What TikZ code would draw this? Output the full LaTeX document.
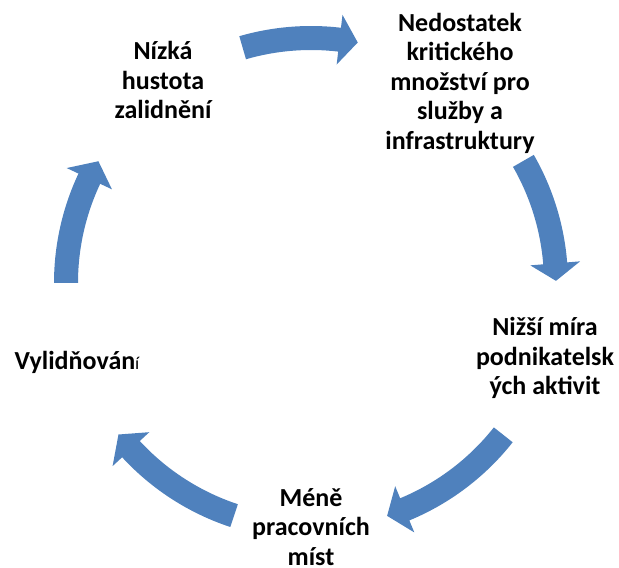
\documentclass[tikz,border=0pt]{standalone}
\usepackage{fontspec}
\setmainfont{Carlito}
\usepackage{tikz}
\usepackage{xcolor}
\usetikzlibrary{positioning}
\definecolor{smartblue}{RGB}{79,129,189}
\tikzset{%
	stage/.style      = {align=center, inner sep=0pt, font=\fontsize{26pt}{29.5pt}\selectfont\bfseries},
	cyclearrow/.style = {fill=smartblue, draw=none},
}
\newcommand{\blockarrow}[3]{%
	\fill[cyclearrow] (#1:257pt) arc[start angle=#1, end angle=#2, radius=257pt] -- (#2:270pt) -- (#3:245pt) -- (#2:220pt) -- (#2:233pt) arc[start angle=#2, end angle=#1, radius=233pt] -- cycle;}

\begin{document}
\begin{tikzpicture}[x=1pt,y=1pt]
	\useasboundingbox (0,0) rectangle (619,568);
	\node[stage] (nizka) at (163,488) {Nízká\\hustota\\zalidnění};
	\node[stage] (nedostatek) at (460,485) {Nedostatek\\kritického\\množství pro\\služby a\\infrastruktury};
	\node[stage] (nizsi) at (545,210) {Nižší míra\\podnikatelsk\\ých aktivit};
	\node[stage] (mene) at (311,41) {Méně\\pracovních\\míst};
	\node[stage] (vylid) at (77,206) {Vylidňován{\mdseries\fontsize{18pt}{20pt}\selectfont í}};
	\begin{scope}[shift={(311,285)}]
		\blockarrow{106.2}{83.3}{79}
		\blockarrow{29.9}{4.6}{0.5}
		\blockarrow{-38.3}{-67.5}{-71.9}
		\blockarrow{-108.3}{-137.3}{-141.8}
		\blockarrow{180}{154.8}{150.2}
	\end{scope}
\end{tikzpicture}
\end{document}
